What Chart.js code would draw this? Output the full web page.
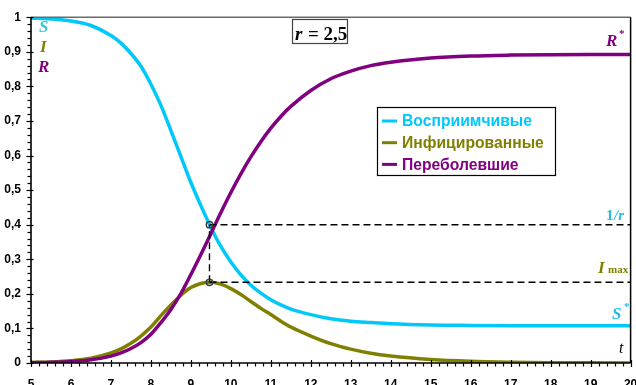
<!DOCTYPE html>
<html><head><meta charset="utf-8">
<script src="https://cdn.jsdelivr.net/npm/chart.js@4.4.1/dist/chart.umd.min.js"></script>
<style>html,body{margin:0;padding:0;background:#fff;}#wrap{width:636px;height:385px;position:relative;}</style>
</head><body><div id="wrap"><canvas id="c" width="636" height="385"></canvas></div>
<script>
// ---- data ----
const time = [5,5.5,6,6.5,7,7.25,7.5,7.75,8,8.25,8.5,8.75,9,9.25,9.5,9.75,10,10.25,10.5,10.75,11,11.25,11.5,12,12.5,13,13.5,14,15,16,17,18,19,20];
const susceptible = [0.998,0.995,0.989,0.976,0.947,0.925,0.895,0.858,0.806,0.745,0.672,0.597,0.522,0.455,0.392,0.337,0.292,0.255,0.225,0.202,0.183,0.168,0.156,0.140,0.128,0.121,0.117,0.1135,0.110,0.1087,0.108,0.1077,0.1076,0.1075];
const infected = [0.0014,0.003,0.0065,0.0138,0.029,0.041,0.057,0.078,0.104,0.137,0.168,0.196,0.218,0.230,0.2334,0.228,0.215,0.198,0.178,0.158,0.140,0.121,0.104,0.078,0.056,0.040,0.028,0.020,0.010,0.0048,0.0023,0.001,0.0005,0.0002];
const recovered = [0.0009,0.002,0.0043,0.0094,0.020,0.029,0.042,0.059,0.083,0.117,0.155,0.201,0.256,0.314,0.374,0.435,0.493,0.547,0.596,0.640,0.679,0.713,0.742,0.788,0.822,0.844,0.860,0.870,0.882,0.8878,0.8904,0.8916,0.8921,0.8924];
const seriesNames = ['Восприимчивые','Инфицированные','Переболевшие'];
const peakTime = 9.465;      // t at I max
const invR = 0.4;            // 1/r
const iMax = 0.2334;         // I max
const xTicks = [5,6,7,8,9,10,11,12,13,14,15,16,17,18,19,20];
const yTickLabels = ['0','0,1','0,2','0,3','0,4','0,5','0,6','0,7','0,8','0,9','1'];

const cS = '#00c8f8', cI = '#808000', cR = '#800080';
const pts = arr => arr.map((v,i)=>({x:time[i], y:v}));

const framePlugin = {
  id:'frame',
  afterDraw(chart){
    const {ctx, chartArea:a, scales:{x,y}} = chart;
    ctx.save();
    ctx.strokeStyle = '#6a6a6a'; ctx.lineWidth = 1.5;
    ctx.beginPath(); ctx.moveTo(a.left, a.top); ctx.lineTo(a.right, a.top); ctx.stroke();
    ctx.strokeStyle = '#000';
    ctx.beginPath(); ctx.moveTo(a.right, a.top); ctx.lineTo(a.right, a.bottom); ctx.stroke();
    ctx.lineWidth = 1.6;
    ctx.beginPath(); ctx.moveTo(a.left, a.top); ctx.lineTo(a.left, a.bottom); ctx.lineTo(a.right, a.bottom); ctx.stroke();
    ctx.lineWidth = 1.2;
    for (let k=0;k<=50;k++){
      const py = Math.round(y.getPixelForValue(k/50))+0.5;
      ctx.beginPath();
      if (k%5===0){ ctx.moveTo(a.left-4.5, py); ctx.lineTo(a.left+2.5, py); }
      else { ctx.moveTo(a.left-3.5, py); ctx.lineTo(a.left, py); }
      ctx.stroke();
    }
    for (let k=0;k<=75;k++){
      const px = Math.round(x.getPixelForValue(5+k/5))+0.5;
      ctx.beginPath();
      if (k%5===0){ ctx.moveTo(px, a.bottom-3); ctx.lineTo(px, a.bottom+4); }
      else { ctx.moveTo(px, a.bottom); ctx.lineTo(px, a.bottom+3.5); }
      ctx.stroke();
    }
    // legend box
    const lx=377, ly=107, lw=178, lh=68;
    ctx.fillStyle='#fff'; ctx.fillRect(lx,ly,lw,lh);
    ctx.strokeStyle='#000'; ctx.lineWidth=1.2; ctx.strokeRect(lx+0.5,ly+0.5,lw,lh);
    const cols=[cS,cI,cR];
    ctx.font='bold 15.7px "Liberation Sans", Arial, sans-serif';
    ctx.textBaseline='middle'; ctx.textAlign='left';
    seriesNames.forEach((n,i)=>{
      const cy = ly+14+i*21.7;
      ctx.strokeStyle=cols[i]; ctx.lineWidth=3;
      ctx.beginPath(); ctx.moveTo(lx+5,cy); ctx.lineTo(lx+20,cy); ctx.stroke();
      ctx.fillStyle=cols[i]; ctx.fillText(n, lx+25, cy+1);
    });
    // r = 2,5 box
    ctx.strokeStyle='#444'; ctx.lineWidth=1.2; ctx.strokeRect(292.5,19.5,55,24);
    ctx.fillStyle='#000'; ctx.textBaseline='alphabetic';
    ctx.font='bold italic 19px "Liberation Serif", "Times New Roman", serif';
    ctx.fillText('r', 295, 40);
    ctx.font='bold 19px "Liberation Serif", "Times New Roman", serif';
    ctx.fillText('= 2,5', 308, 40);
    ctx.font='bold italic 17px "Liberation Serif", "Times New Roman", serif';
    ctx.fillStyle='#33c8d8'; ctx.fillText('S', 39, 32);
    ctx.fillStyle=cI; ctx.fillText('I', 40, 52);
    ctx.fillStyle=cR; ctx.fillText('R', 38, 72);
    ctx.fillStyle=cR; ctx.fillText('R', 606, 46);
    ctx.font='bold 11px "Liberation Serif", serif'; ctx.fillText('*', 619, 37);
    ctx.fillStyle='#22bce8';
    ctx.font='bold 15px "Liberation Serif", serif'; ctx.fillText('1', 606, 220);
    ctx.font='bold italic 15px "Liberation Serif", serif'; ctx.fillText('/r', 614, 220);
    ctx.fillStyle=cI;
    ctx.font='bold italic 17px "Liberation Serif", serif'; ctx.fillText('I', 598, 273);
    ctx.font='bold 11px "Liberation Serif", serif'; ctx.fillText('max', 608, 273);
    ctx.fillStyle='#22bce8';
    ctx.font='bold italic 17px "Liberation Serif", serif'; ctx.fillText('S', 612, 319);
    ctx.font='bold 11px "Liberation Serif", serif'; ctx.fillText('*', 624, 310);
    ctx.fillStyle='#000';
    ctx.font='italic 16px "Liberation Serif", serif'; ctx.fillText('t', 619, 353);
    ctx.restore();
  }
};

new Chart(document.getElementById('c'), {
  type:'line',
  data:{ datasets:[
    {label:'markers', data:[{x:peakTime,y:invR},{x:peakTime,y:iMax}], showLine:false, pointRadius:3.2, pointBorderWidth:1.4, pointBorderColor:'#3a3a3a', pointBackgroundColor:'rgba(0,0,0,0)', order:0},
    {label:'g1', data:[{x:peakTime,y:invR},{x:20,y:invR}], borderColor:'#000', borderWidth:1.4, borderDash:[7,4], pointRadius:0, order:1},
    {label:'g2', data:[{x:peakTime,y:iMax},{x:20,y:iMax}], borderColor:'#000', borderWidth:1.4, borderDash:[7,4], pointRadius:0, order:1},
    {label:'g3', data:[{x:peakTime,y:iMax},{x:peakTime,y:invR}], borderColor:'#000', borderWidth:1.4, borderDash:[7,4], pointRadius:0, order:1},
    {label:seriesNames[2], data:pts(recovered), borderColor:cR, borderWidth:3.5, pointRadius:0, cubicInterpolationMode:'monotone', order:2},
    {label:seriesNames[1], data:pts(infected), borderColor:cI, borderWidth:3.5, pointRadius:0, cubicInterpolationMode:'monotone', order:3},
    {label:seriesNames[0], data:pts(susceptible), borderColor:cS, borderWidth:3.5, pointRadius:0, cubicInterpolationMode:'monotone', order:4}
  ]},
  options:{
    responsive:false, animation:false,
    layout:{padding:{top:13,right:5,left:0,bottom:0}},
    plugins:{legend:{display:false}, tooltip:{enabled:false}},
    scales:{
      x:{type:'linear', min:5, max:20,
        afterBuildTicks(s){ s.ticks = xTicks.map(v=>({value:v})); },
        ticks:{color:'#000', font:{family:'"Liberation Sans", Arial, sans-serif', size:12, weight:'bold'}, padding:14, maxRotation:0, autoSkip:false, callback:v=>String(v)},
        grid:{display:false, drawTicks:false}, border:{display:false},
        afterFit(s){ s.height=22; s.paddingLeft=0; s.paddingRight=0; }
      },
      y:{min:0, max:1,
        afterBuildTicks(s){ s.ticks = yTickLabels.map((l,i)=>({value:i/10})); },
        ticks:{color:'#000', font:{family:'"Liberation Sans", Arial, sans-serif', size:12, weight:'bold'}, padding:10, callback:(v,i)=>yTickLabels[i]},
        grid:{display:false, drawTicks:false}, border:{display:false},
        afterFit(s){ s.width=31; }
      }
    }
  },
  plugins:[framePlugin]
});
</script></body></html>
